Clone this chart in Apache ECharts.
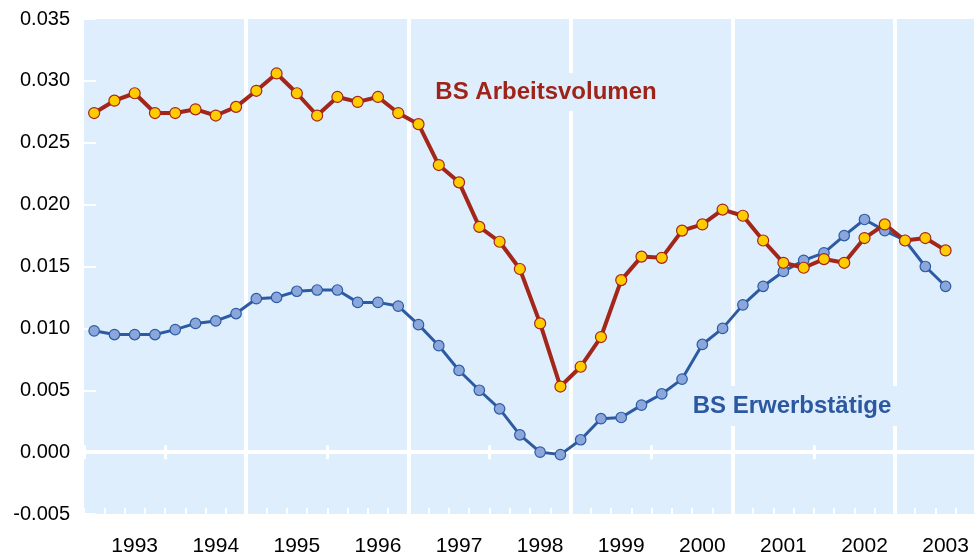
<!DOCTYPE html>
<html lang="de">
<head>
    <meta charset="utf-8">
    <title>BS Arbeitsvolumen / BS Erwerbstätige</title>
    <script src="https://cdn.jsdelivr.net/npm/echarts@6/dist/echarts.min.js"></script>
    <style>
        html, body { margin: 0; padding: 0; background: #fff; }
        #main { width: 976px; height: 559px; }
    </style>
</head>
<body>
    <div id="main"></div>
    <script type="text/javascript">
        // quarterly data, 1993 Q1 .. 2003 Q3
        var years = ['1993', '1994', '1995', '1996', '1997', '1998', '1999', '2000', '2001', '2002', '2003'];
        var quarterNames = ['Q1', 'Q2', 'Q3', 'Q4'];
        var quarters = [];
        years.forEach(function (y) {
            quarterNames.forEach(function (q) { quarters.push(y + ' ' + q); });
        });

        var arbeitsvolumen = [
            0.0274, 0.0284, 0.0290, 0.0274, 0.0274, 0.0277, 0.0272, 0.0279,
            0.0292, 0.0306, 0.0290, 0.0272, 0.0287, 0.0283, 0.0287, 0.0274,
            0.0265, 0.0232, 0.0218, 0.0182, 0.0170, 0.0148, 0.0104, 0.0053,
            0.0069, 0.0093, 0.0139, 0.0158, 0.0157, 0.0179, 0.0184, 0.0196,
            0.0191, 0.0171, 0.0153, 0.0149, 0.0156, 0.0153, 0.0173, 0.0184,
            0.0171, 0.0173, 0.0163
        ];
        var erwerbstaetige = [
            0.0098, 0.0095, 0.0095, 0.0095, 0.0099, 0.0104, 0.0106, 0.0112,
            0.0124, 0.0125, 0.0130, 0.0131, 0.0131, 0.0121, 0.0121, 0.0118,
            0.0103, 0.0086, 0.0066, 0.0050, 0.0035, 0.0014, 0.0000, -0.0002,
            0.0010, 0.0027, 0.0028, 0.0038, 0.0047, 0.0059, 0.0087, 0.0100,
            0.0119, 0.0134, 0.0146, 0.0155, 0.0161, 0.0175, 0.0188, 0.0179,
            0.0171, 0.0150, 0.0134
        ];
        var yMin = -0.005, yMax = 0.035, yStep = 0.005;

        var bg = '#dfeefd';
        var red = '#a3261a';
        var blue = '#2c5ba3';
        var font = '"Liberation Sans", Arial, sans-serif';

        var gridBox = { left: 84, top: 19, width: 894, bottom: 45 };

        var myChart = echarts.init(document.getElementById('main'));
        myChart.setOption({
            animation: false,
            grid: [
                Object.assign({ show: true, backgroundColor: bg, borderWidth: 0 }, gridBox),
                // overlay grid, only used for the upward year ticks on the zero line
                Object.assign({ show: false }, gridBox)
            ],
            xAxis: [
                {
                    // quarters: data axis, inner quarter ticks, 2-year split lines, year labels
                    type: 'category',
                    gridIndex: 0,
                    data: quarters,
                    boundaryGap: true,
                    position: 'bottom',
                    axisLine: { show: false, onZero: false },
                    axisTick: {
                        show: true, inside: true, interval: 0, length: 6,
                        lineStyle: { color: '#fff', width: 2 }
                    },
                    splitLine: {
                        show: true,
                        interval: function (idx) { return idx > 0 && idx % 8 === 0; },
                        lineStyle: { color: '#fff', width: 4 }
                    },
                    axisLabel: {
                        interval: function (idx) { return idx % 4 === 2; },
                        formatter: function (v) { return v.slice(0, 4); },
                        color: '#000', fontSize: 21, fontFamily: font, margin: 22
                    }
                },
                {
                    // zero line with year ticks (downward)
                    type: 'category',
                    gridIndex: 0,
                    data: years,
                    position: 'bottom',
                    axisLine: { show: true, onZero: true, lineStyle: { color: '#fff', width: 4 } },
                    axisTick: { show: true, interval: 0, length: 7, lineStyle: { color: '#fff', width: 3 } },
                    axisLabel: { show: false },
                    splitLine: { show: false }
                },
                {
                    // year ticks (upward)
                    type: 'category',
                    gridIndex: 1,
                    data: years,
                    position: 'bottom',
                    axisLine: { show: false, onZero: true },
                    axisTick: { show: true, inside: true, interval: 0, length: 7, lineStyle: { color: '#fff', width: 3 } },
                    axisLabel: { show: false },
                    splitLine: { show: false }
                }
            ],
            yAxis: [
                {
                    type: 'value',
                    gridIndex: 0,
                    min: yMin, max: yMax, interval: yStep,
                    axisLine: { show: false },
                    axisTick: { show: true, inside: true, length: 12, lineStyle: { color: '#fff', width: 2 } },
                    splitLine: { show: false },
                    axisLabel: {
                        formatter: function (v) { return v.toFixed(3); },
                        color: '#000', fontSize: 20, fontFamily: font, margin: 14
                    }
                },
                {
                    type: 'value',
                    gridIndex: 1,
                    min: yMin, max: yMax, interval: yStep,
                    axisLine: { show: false },
                    axisTick: { show: false },
                    splitLine: { show: false },
                    axisLabel: { show: false }
                }
            ],
            graphic: [
                {
                    type: 'text', x: 546, y: 92, z: 1,
                    style: {
                        text: 'BS Arbeitsvolumen',
                        fill: '#9e2419',
                        font: 'bold 24px ' + font,
                        align: 'center', verticalAlign: 'middle',
                        backgroundColor: bg, padding: [7, 10]
                    }
                },
                {
                    type: 'text', x: 792, y: 406, z: 1,
                    style: {
                        text: 'BS Erwerbstätige',
                        fill: '#2b58a0',
                        font: 'bold 24px ' + font,
                        align: 'center', verticalAlign: 'middle',
                        backgroundColor: bg, padding: [8, 10]
                    }
                }
            ],
            series: [
                {
                    name: 'BS Erwerbstätige',
                    type: 'line',
                    xAxisIndex: 0, yAxisIndex: 0,
                    data: erwerbstaetige,
                    symbol: 'circle', symbolSize: 10.5, showAllSymbol: true,
                    lineStyle: { color: blue, width: 3 },
                    itemStyle: { color: '#8aa6da', borderColor: blue, borderWidth: 1.2 }
                },
                {
                    name: 'BS Arbeitsvolumen',
                    type: 'line',
                    xAxisIndex: 0, yAxisIndex: 0,
                    data: arbeitsvolumen,
                    symbol: 'circle', symbolSize: 11, showAllSymbol: true,
                    lineStyle: { color: red, width: 4 },
                    itemStyle: { color: '#ffcc00', borderColor: red, borderWidth: 1.2 }
                }
            ]
        });
    </script>
</body>
</html>
